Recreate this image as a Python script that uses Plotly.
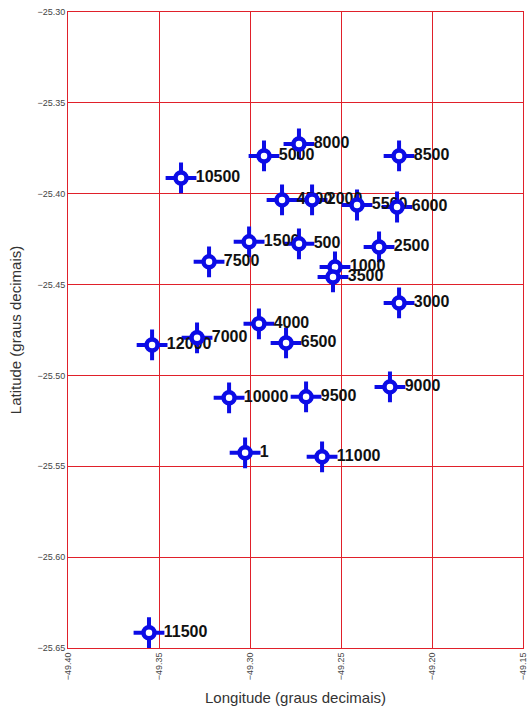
import plotly.graph_objects as go

labels = ["1", "500", "1000", "1500", "2000", "2500", "3000", "3500", "4000", "4500",
          "5000", "5500", "6000", "6500", "7000", "7500", "8000", "8500", "9000", "9500",
          "10000", "10500", "11000", "11500", "12000"]
longitude = [-49.3027, -49.2731, -49.2533, -49.3005, -49.2659, -49.2291, -49.2181, -49.2544,
             -49.2951, -49.2824, -49.2923, -49.2412, -49.2192, -49.2802, -49.3291, -49.3225,
             -49.2731, -49.2181, -49.2231, -49.2692, -49.3115, -49.3379, -49.2604, -49.3555,
             -49.3538]
latitude = [-25.5426, -25.4276, -25.4403, -25.4265, -25.4034, -25.4293, -25.4601, -25.4458,
            -25.4716, -25.4034, -25.3792, -25.4062, -25.4073, -25.4821, -25.4793, -25.4375,
            -25.3726, -25.3792, -25.5063, -25.5118, -25.5123, -25.3913, -25.5448, -25.6416,
            -25.4832]

x_ticks = [-49.40, -49.35, -49.30, -49.25, -49.20, -49.15]
y_ticks = [-25.30, -25.35, -25.40, -25.45, -25.50, -25.55, -25.60, -25.65]

blue = "#0c0ce6"
red = "#e0202a"
font_family = "Liberation Sans, Arial, sans-serif"

fig = go.Figure()
fig.add_trace(go.Scatter(
    x=longitude, y=latitude, mode="markers+text", text=labels,
    textposition="middle right",
    textfont=dict(family=font_family, size=16, color="#111111", weight="bold"),
    marker=dict(symbol="cross-thin-open", size=22, opacity=1, color=blue,
                line=dict(color=blue, width=4)),
    hoverinfo="skip", showlegend=False))
fig.add_trace(go.Scatter(
    x=longitude, y=latitude, mode="markers",
    marker=dict(symbol="circle", size=11, opacity=1, color="white",
                line=dict(color=blue, width=4.5)),
    showlegend=False))

axis_common = dict(showgrid=True, gridcolor=red, gridwidth=1, showline=True, linecolor=red,
                   linewidth=1, mirror=True, zeroline=False, ticks="", automargin=False,
                   ticklabeloverflow="allow",
                   tickfont=dict(family=font_family, size=9, color="#444444"),
                   tickformat=".2f")

fig.update_layout(
    width=529, height=722,
    margin=dict(l=68, r=6, t=12, b=74),
    paper_bgcolor="white", plot_bgcolor="white",
    xaxis=dict(range=[-49.40, -49.15], tickvals=x_ticks, tickangle=-90,
               title=dict(text="Longitude (graus decimais)", standoff=13,
                          font=dict(family=font_family, size=15, color="#333333")),
               **axis_common),
    yaxis=dict(range=[-25.65, -25.30], tickvals=y_ticks,
               title=dict(text="Latitude (graus decimais)", standoff=12,
                          font=dict(family=font_family, size=15, color="#333333")),
               **axis_common),
)

fig.write_html("out.html", config={"displayModeBar": False},
               post_script="document.body.style.margin='0';document.body.style.overflow='hidden';")
